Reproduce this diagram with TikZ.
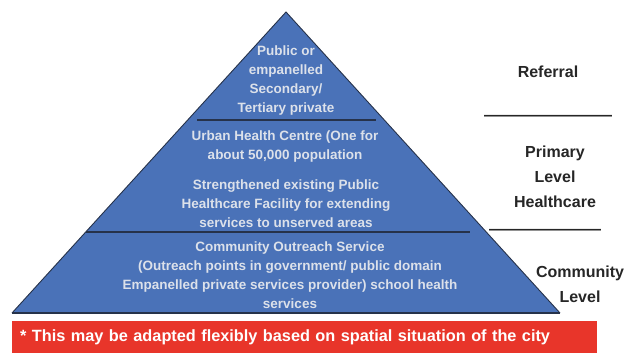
\documentclass[tikz,border=0pt]{standalone}
\usepackage{fontspec}
\setmainfont{Liberation Sans}
\usetikzlibrary{positioning,calc}
\definecolor{pyrblue}{HTML}{4A72B8}
\definecolor{pyredge}{HTML}{26324A}
\definecolor{pyrtext}{HTML}{DCE1EA}
\definecolor{bannerred}{HTML}{E8352A}
\tikzset{
  font=\bfseries,
  tiertext/.style={
    text=pyrtext,
    align=center,
    inner sep=0pt,
    font=\fontsize{13.5}{18.8}\selectfont\bfseries
  },
  levellabel/.style={
    text=black!85,
    align=center,
    inner sep=0pt,
    font=\fontsize{16}{25}\selectfont\bfseries
  },
  divider/.style={
    pyredge,
    line width=1.2pt
  },
  banner/.style={
    fill=bannerred,
    text=white,
    anchor=north west,
    align=left,
    minimum width=585pt,
    minimum height=32pt,
    text width=569pt,
    inner xsep=8pt,
    font=\fontsize{16.3}{20}\selectfont\bfseries
  }
}

\begin{document}
\begin{tikzpicture}[x=1pt,y=-1pt]
\useasboundingbox (0,0) rectangle (629,353);

% Pyramid
\coordinate (apex) at (286,12);
\coordinate (bl) at (12,313);
\coordinate (br) at (560,313);
\fill[pyrblue] (apex) -- (br) -- (bl) -- cycle;
\draw[pyredge, line width=0.9pt, line join=miter] (bl) -- (apex) -- (br);
\draw[pyredge, line width=1.6pt] (bl) -- (br);

% Tier dividers
\coordinate (d1l) at (197,120);
\coordinate (d1r) at (376,120);
\coordinate (d2l) at (86,232);
\coordinate (d2r) at (470,232);
\draw[divider] (d1l) -- (d1r);
\draw[divider] (d2l) -- (d2r);

% Tier texts
\node[tiertext] (referraltier) at (286,80.5) {Public or\\empanelled\\Secondary/\\Tertiary private};
\node[tiertext] (uhc) at (285,146.5) {Urban Health Centre (One for\\about 50,000 population};
\node[tiertext] (strength) at (286,203.5) {Strengthened existing Public\\Healthcare Facility for extending\\services to unserved areas};
\node[tiertext] (outreach) at (290,275) {Community Outreach Service\\(Outreach points in government/ public domain\\Empanelled private services provider) school health\\services};

% Level labels
\node[levellabel] (referral) at (548,72) {Referral};
\node[levellabel] (sep1) at (548,118) {\textemdash\textemdash\textemdash\textemdash\textemdash\textemdash\textemdash\textemdash};
\node[levellabel] (primary) at (555,177) {Primary\\Level\\Healthcare};
\node[levellabel] (sep2) at (545,232) {\textemdash\textemdash\textemdash\textemdash\textemdash\textemdash\textemdash};
\node[levellabel] (community) at (580,284.5) {Community\\Level};

% Note
\node[banner] (note) at (12,321) {* This may be adapted flexibly based on spatial situation of the city};

\end{tikzpicture}
\end{document}
